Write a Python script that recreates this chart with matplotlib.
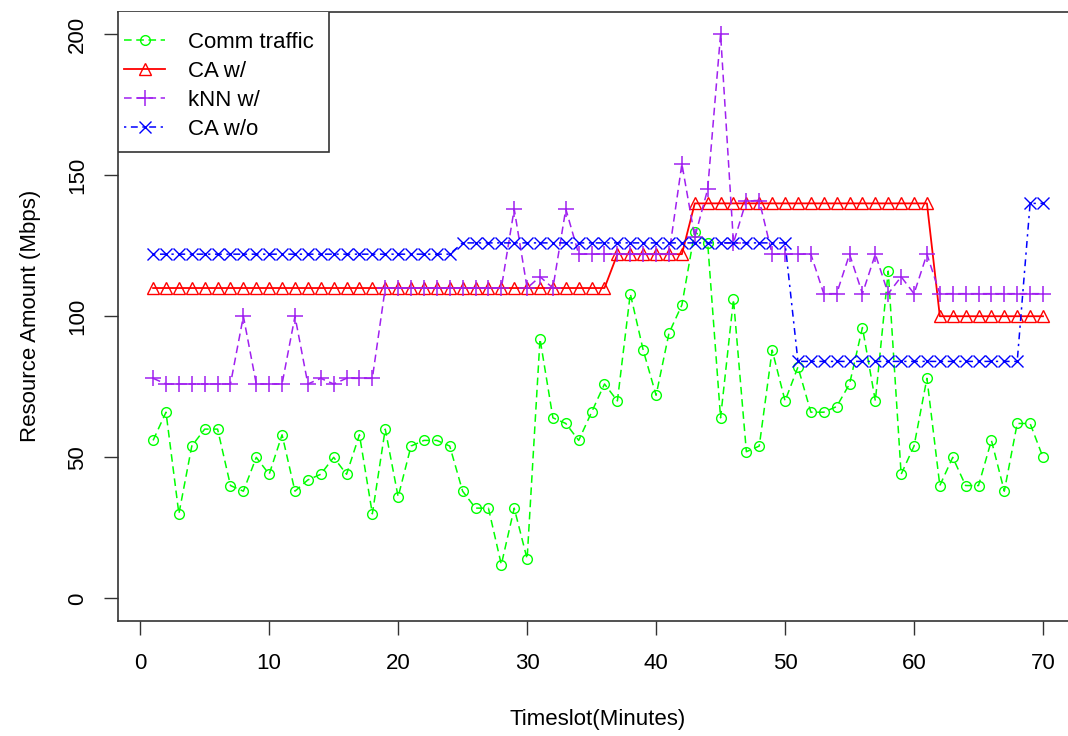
import numpy as np
import matplotlib
matplotlib.use("Agg")
import matplotlib.pyplot as plt
from matplotlib.patches import Rectangle

plt.rcParams['font.family'] = ['Liberation Sans', 'DejaVu Sans']

# timeslots
slots = np.arange(1, 71)

# communication traffic (Mbps)
comm_traffic = [56, 66, 30, 54, 60, 60, 40, 38, 50, 44,
                58, 38, 42, 44, 50, 44, 58, 30, 60, 36,
                54, 56, 56, 54, 38, 32, 32, 12, 32, 14,
                92, 64, 62, 56, 66, 76, 70, 108, 88, 72,
                94, 104, 130, 126, 64, 106, 52, 54, 88, 70,
                82, 66, 66, 68, 76, 96, 70, 116, 44, 54,
                78, 40, 50, 40, 40, 56, 38, 62, 62, 50]

# CA with prediction
ca_with = [110] * 36 + [122] * 6 + [140] * 19 + [100] * 9

# kNN with prediction
knn_with = [78, 76, 76, 76, 76, 76, 76, 100, 76, 76,
            76, 100, 76, 78, 76, 78, 78, 78, 110, 110,
            110, 110, 110, 110, 110, 110, 110, 110, 138, 110,
            114, 110, 138, 122, 122, 122, 122, 122, 122, 122,
            122, 154, 128, 145, 200, 126, 141, 141, 122, 122,
            122, 122, 108, 108, 122, 108, 122, 108, 114, 108,
            122, 108, 108, 108, 108, 108, 108, 108, 108, 108]

# CA without prediction
ca_without = [122] * 24 + [126] * 26 + [84] * 18 + [140] * 2

fig = plt.figure(figsize=(10.68, 7.36), dpi=100)
# R-style plot region (right edge runs just past the image)
ax = fig.add_axes([117.5 / 1068, 115 / 736, (1078.6 - 117.5) / 1068, 609.5 / 736])

ax.plot(slots, comm_traffic, color='#00FF00', linestyle=(0, (5, 3)), linewidth=1.1,
        marker='o', markersize=7, markerfacecolor='none', markeredgewidth=1.0,
        label='Comm traffic')
ax.plot(slots, ca_with, color='#FF0000', linestyle='-', linewidth=1.3,
        marker='^', markersize=8.5, markerfacecolor='none', markeredgewidth=1.0,
        label='CA w/')
ax.plot(slots, knn_with, color='#A020F0', linestyle=(0, (5, 3)), linewidth=1.1,
        marker='+', markersize=11, markeredgewidth=1.1,
        label='kNN w/')
ax.plot(slots, ca_without, color='#0000FF', linestyle=(0, (1.5, 3, 4.5, 3)), linewidth=1.1,
        marker='x', markersize=8.5, markeredgewidth=1.0,
        label='CA w/o')

ax.set_xlim(-1.76, 72.76)
ax.set_ylim(-8, 208)
ax.set_xticks(range(0, 71, 10))
ax.set_yticks(range(0, 201, 50))
ax.tick_params(axis='both', direction='out', length=10, width=1.0, labelsize=16, color='#333333')
ax.tick_params(axis='x', pad=13)
ax.tick_params(axis='y', pad=11)
plt.setp(ax.get_yticklabels(), rotation=90, va='center')
for sp in ax.spines.values():
    sp.set_color('#333333')
    sp.set_linewidth(1.2)

ax.set_xlabel('Timeslot(Minutes)', fontsize=16, labelpad=25)
ax.set_ylabel('Resource Amount (Mbps)', fontsize=16, labelpad=19)

# legend box drawn separately, R-style
ax.add_patch(Rectangle((0, 0.7695), 0.2201, 0.2305, transform=ax.transAxes,
                       facecolor='white', edgecolor='#333333', linewidth=1.2, zorder=4))
leg = ax.legend(loc='upper left', bbox_to_anchor=(0, 1 - 0.023), borderaxespad=0,
                frameon=False, fontsize=16, handlelength=1.85, handletextpad=1.0,
                borderpad=0.3, labelspacing=0.36)
leg.set_zorder(5)

fig.savefig('out.png', dpi=100)
